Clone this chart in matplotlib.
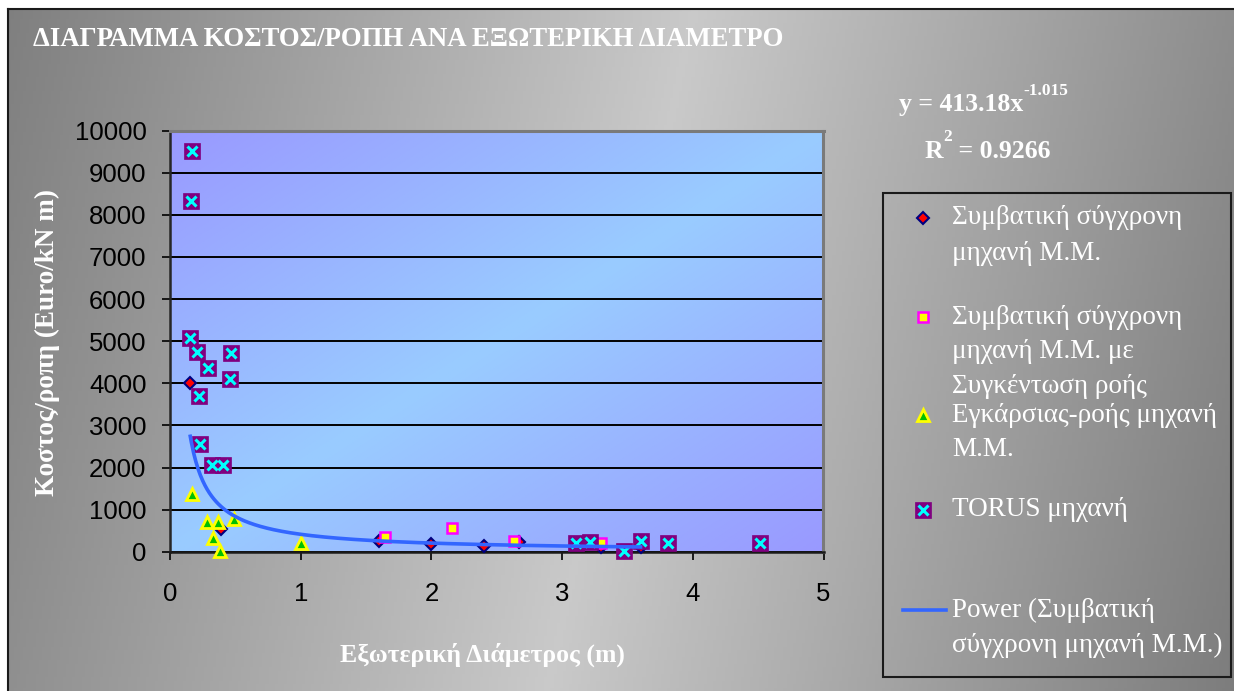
import numpy as np
import matplotlib
matplotlib.use("Agg")
import matplotlib.pyplot as plt
from matplotlib.lines import Line2D
from matplotlib.patches import Rectangle

# ---------------- data ----------------
title = "ΔΙΑΓΡΑΜΜΑ ΚΟΣΤΟΣ/ΡΟΠΗ ΑΝΑ ΕΞΩΤΕΡΙΚΗ ΔΙΑΜΕΤΡΟ"
x_label = "Εξωτερική Διάμετρος (m)"
y_label = "Κοστος/ροπη (Euro/kN m)"

x_ticks = [0, 1, 2, 3, 4, 5]
y_ticks = [0, 1000, 2000, 3000, 4000, 5000, 6000, 7000, 8000, 9000, 10000]

# conventional PM machine
conv_x = [0.155, 0.39, 1.60, 2.00, 2.40, 2.67, 3.30, 3.60]
conv_y = [4000, 530, 250, 175, 135, 230, 120, 120]

# conventional PM machine with flux concentration
flux_x = [1.645, 2.155, 2.635, 3.295]
flux_y = [340, 555, 260, 215]

# transverse-flux PM machine
trans_x = [0.165, 0.285, 0.33, 0.365, 0.385, 0.49, 1.00]
trans_y = [1360, 700, 335, 700, 10, 770, 200]

# TORUS machine
torus_x = [0.170, 0.157, 0.152, 0.210, 0.470, 0.287, 0.458, 0.223, 0.228,
           0.318, 0.407, 3.107, 3.214, 3.477, 3.605, 3.810, 4.516]
torus_y = [9520, 8320, 5070, 4750, 4710, 4360, 4100, 3700, 2560,
           2050, 2050, 215, 240, 5, 255, 215, 215]

# power trend line of the conventional series: y = a * x^b
fit_a = 413.18
fit_b = -1.015
fit_r2 = 0.9266

legend_labels = [
    "Συμβατική σύγχρονη\nμηχανή Μ.Μ.",
    "Συμβατική σύγχρονη\nμηχανή Μ.Μ. με\nΣυγκέντωση ροής",
    "Εγκάρσιας-ροής μηχανή\nΜ.Μ.",
    "TORUS μηχανή",
    "Power (Συμβατική\nσύγχρονη μηχανή Μ.Μ.)",
]

# ---------------- styles ----------------
SERIF = ["Liberation Serif", "DejaVu Serif"]
SANS = ["Liberation Sans", "DejaVu Sans"]

diamond_kw = dict(ls="none", marker="D", ms=6.5, mfc="#ff0000", mec="#000080", mew=1.5)
square_kw = dict(ls="none", marker="s", ms=7.5, mfc="#ffff00", mec="#ff00ff", mew=1.8)
tri_kw = dict(ls="none", marker="^", ms=9, mfc="#00c000", mec="#ffff00", mew=2.0)
torus_bg_kw = dict(ls="none", marker="s", ms=11.5, mfc="#800080", mec="#800080", mew=0.5)
torus_x_kw = dict(ls="none", marker="x", ms=7.5, mec="#00ffff", mew=2.2)
fit_kw = dict(color="#3366ff", lw=2.6)

W, H = 1234, 691
fig = plt.figure(figsize=(W / 100, H / 100), dpi=100, facecolor="white")


def fx(px):
    return px / W


def fy(py):
    return 1 - py / H


# ---------------- chart background ----------------
bg = fig.add_axes([fx(8), 0, 1 - fx(8), fy(9)], zorder=-5)
ny, nx = 200, 400
xx, yy = np.meshgrid(np.linspace(0, 1, nx), np.linspace(0, 1, ny))
v = xx + 0.12 * yy
dark_l, light, dark_r = 0.50, 0.79, 0.49
peak = 0.56
g = np.where(v <= peak,
             dark_l + (light - dark_l) * (v / peak),
             light + (dark_r - light) * ((v - peak) / (1.12 - peak)))
bg.imshow(np.dstack([g, g, g]), extent=[0, 1, 0, 1], origin="upper", aspect="auto")
bg.set_xlim(0, 1)
bg.set_ylim(0, 1)
bg.set_xticks([])
bg.set_yticks([])
for side, s in bg.spines.items():
    s.set_color("#1a1a1a")
    s.set_linewidth(1.5)
    if side in ("right", "bottom"):
        s.set_visible(False)

# ---------------- plot area ----------------
ax_pos = [fx(170), fy(551.7), fx(823.5) - fx(170), fy(130.7) - fy(551.7)]
pa = fig.add_axes(ax_pos, zorder=0)
purple = np.array([0x99, 0x99, 0xff]) / 255
lightblue = np.array([0x99, 0xcc, 0xff]) / 255
gx, gy = np.meshgrid(np.linspace(0, 1, 300), np.linspace(0, 1, 200))
t = (gx + gy) / 2  # 0 at top-left, 1 at bottom-right (origin upper)
w = 1 - np.abs(t - 0.5) * 2
img = purple[None, None, :] * (1 - w[..., None]) + lightblue[None, None, :] * w[..., None]
pa.imshow(img, extent=[0, 1, 0, 1], origin="upper", aspect="auto")
pa.set_axis_off()

ax = fig.add_axes(ax_pos, zorder=1)
ax.patch.set_alpha(0)

ax.plot(conv_x, conv_y, zorder=3, clip_on=False, **diamond_kw)
ax.plot(flux_x, flux_y, zorder=4, clip_on=False, **square_kw)
ax.plot(trans_x, trans_y, zorder=5, clip_on=False, **tri_kw)
ax.plot(torus_x, torus_y, zorder=6, clip_on=False, **torus_bg_kw)
ax.plot(torus_x, torus_y, zorder=6.5, clip_on=False, **torus_x_kw)

xf = np.linspace(min(conv_x), max(conv_x), 400)
ax.plot(xf, fit_a * xf ** fit_b, zorder=7, **fit_kw)

ax.set_xlim(0, 5)
ax.set_ylim(0, 10000)
ax.set_xticks(x_ticks)
ax.set_yticks(y_ticks)
ax.set_xticklabels([str(v) for v in x_ticks])
ax.set_yticklabels([str(v) for v in y_ticks])
ax.yaxis.grid(True, color="black", lw=1.4)
ax.set_axisbelow(True)
ax.tick_params(axis="both", direction="out", length=6, width=1.2, color="black",
               labelsize=18.5, labelcolor="black")
ax.tick_params(axis="y", pad=11)
ax.tick_params(axis="x", pad=16)
for lab in ax.get_xticklabels() + ax.get_yticklabels():
    lab.set_family(SANS)
ax.spines["left"].set_color("#262626")
ax.spines["left"].set_linewidth(1.8)
ax.spines["bottom"].set_color("#1a1a1a")
ax.spines["bottom"].set_linewidth(1.8)
ax.spines["top"].set_color("#7a7a7a")
ax.spines["top"].set_linewidth(2.2)
ax.spines["right"].set_color("#7a7a7a")
ax.spines["right"].set_linewidth(2.2)

# ---------------- titles ----------------
fig.text(fx(33), fy(40), title, ha="left", va="center", color="white",
         family=SERIF, weight="bold", size=19.3)
fig.text(fx(482), fy(655), x_label, ha="center", va="center", color="white",
         family=SERIF, weight="bold", size=18.5)
fig.text(fx(47), fy(342), y_label, ha="center", va="center", color="white",
         family=SERIF, weight="bold", size=19.5, rotation=90)

# ---------------- trend line equation ----------------
fig.canvas.draw()
rend = fig.canvas.get_renderer()


def chain(x0, yc, parts):
    """Place text pieces left to right; each part is (text, size, dy)."""
    x = x0
    for txt, size, dy in parts:
        tt = fig.text(fx(x), fy(yc + dy), txt, ha="left", va="center", color="white",
                      family=SERIF, weight="bold", size=size)
        x += tt.get_window_extent(rend).width


chain(899, 105, [("y = %.2fx" % fit_a, 18.5, 0), ("%.3f" % fit_b, 12.5, -14)])
chain(925, 151, [("R", 18.5, 0), ("2", 12.5, -14), (" = %.4f" % fit_r2, 18.5, 0)])

# ---------------- legend ----------------
fig.add_artist(Rectangle((fx(883), fy(677)), fx(1231) - fx(883), fy(192.7) - fy(677),
                         transform=fig.transFigure, fill=False, ec="#1a1a1a", lw=1.5))

entry_y = [218, 317, 415, 510, 610]
line_step = 35
marker_x = 923
text_x = 952
handles = [[diamond_kw], [square_kw], [tri_kw], [torus_bg_kw, torus_x_kw], None]

for label, y0, hs in zip(legend_labels, entry_y, handles):
    if hs is None:
        fig.add_artist(Line2D([fx(903), fx(946)], [fy(y0), fy(y0)],
                              transform=fig.transFigure, **fit_kw))
    else:
        for kw in hs:
            fig.add_artist(Line2D([fx(marker_x)], [fy(y0)],
                                  transform=fig.transFigure, **kw))
    for i, line in enumerate(label.split("\n")):
        fig.text(fx(text_x), fy(y0 + i * line_step), line, ha="left", va="center",
                 color="white", family=SERIF, size=19.5)

fig.savefig("out.png", dpi=100, facecolor="white")
